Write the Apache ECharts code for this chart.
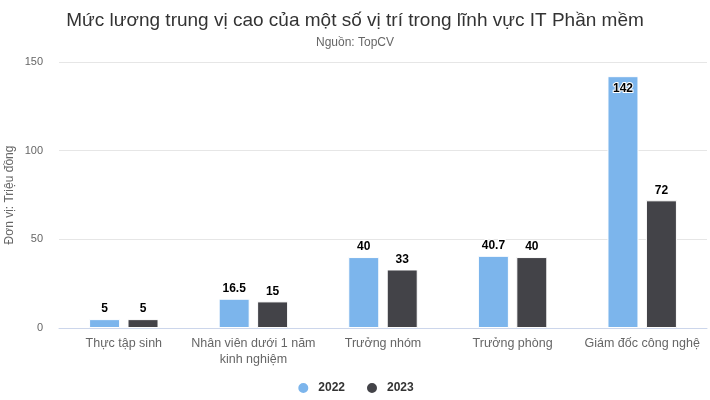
<!DOCTYPE html>
<html><head><meta charset="utf-8">
<script src="https://cdn.jsdelivr.net/npm/echarts@6/dist/echarts.min.js"></script>
<style>html,body{margin:0;padding:0;background:#fff}#c{width:710px;height:400px}</style>
</head><body><div id="c"></div>
<script>
var categories = ['Thực tập sinh', 'Nhân viên dưới 1 năm\nkinh nghiệm', 'Trưởng nhóm', 'Trưởng phòng', 'Giám đốc công nghệ'];
var values2022 = [5, 16.5, 40, 40.7, 142];
var values2023 = [5, 15, 33, 40, 72];
var yTicks = [0, 50, 100, 150];

var font = '"Liberation Sans", Arial, sans-serif';
var chart = echarts.init(document.getElementById('c'));
function lbl(pos) {
  return {show: true, position: pos, distance: 4, color: '#000', fontWeight: 'bold', fontSize: 12,
    fontFamily: font, textBorderColor: '#fff', textBorderWidth: 2};
}
var d2022 = values2022.map(function (v) {
  return v > 140 ? {value: v, label: {position: 'insideTop', distance: 7}} : v;
});
chart.setOption({
  animation: false,
  title: {
    text: 'Mức lương trung vị cao của một số vị trí trong lĩnh vực IT Phần mềm',
    subtext: 'Nguồn: TopCV',
    left: 'center', top: 6, itemGap: 7,
    textStyle: {fontFamily: font, fontSize: 19, fontWeight: 'normal', color: '#333'},
    subtextStyle: {fontFamily: font, fontSize: 12, color: '#666'}
  },
  legend: {
    bottom: 0, left: 'center', icon: 'circle', itemWidth: 12, itemHeight: 12, itemGap: 20,
    textStyle: {fontFamily: font, fontSize: 12, fontWeight: 'bold', color: '#333', padding: [0, 0, 0, 4]}
  },
  grid: {left: 59, right: 3, top: 62, bottom: 72, containLabel: false, outerBoundsMode: 'none'},
  xAxis: {
    type: 'category', data: categories,
    axisLine: {lineStyle: {color: '#ccd6eb'}},
    axisTick: {show: false},
    axisLabel: {fontFamily: font, fontSize: 12.5, color: '#666', margin: 8, lineHeight: 16, interval: 0}
  },
  yAxis: {
    type: 'value', min: yTicks[0], max: yTicks[yTicks.length - 1], interval: 50,
    name: 'Đơn vị: Triệu đồng', nameLocation: 'middle', nameGap: 43, nameRotate: 90,
    nameMoveOverlap: false,
    nameTextStyle: {fontFamily: font, fontSize: 12, color: '#666'},
    axisLine: {show: false}, axisTick: {show: false},
    axisLabel: {fontFamily: font, fontSize: 11, color: '#666', margin: 16},
    splitLine: {lineStyle: {color: '#e6e6e6'}}
  },
  series: [
    {name: '2022', type: 'bar', data: d2022, barWidth: 31, barGap: '24%',
      itemStyle: {color: '#7cb5ec', borderColor: '#fff', borderWidth: 1}, label: lbl('top')},
    {name: '2023', type: 'bar', data: values2023, barWidth: 31,
      itemStyle: {color: '#434348', borderColor: '#fff', borderWidth: 1}, label: lbl('top')}
  ]
});
</script></body></html>
